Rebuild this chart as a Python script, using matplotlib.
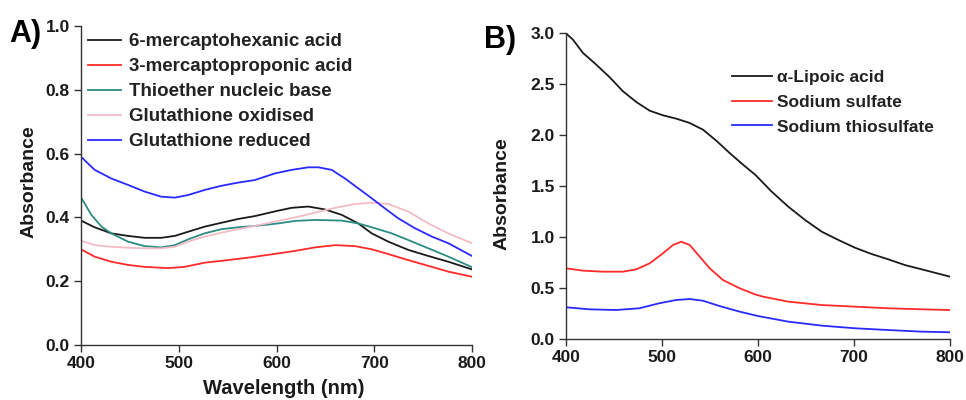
import matplotlib
matplotlib.use("Agg")
import matplotlib.pyplot as plt

plt.rcParams['font.family'] = ['Liberation Sans', 'DejaVu Sans']

# ---- Panel A: absorbance spectra of thiol-capped particles ----
wl_mha = [400, 414, 431, 448, 465, 482, 496, 509.5, 526.5, 543.5, 560.6, 577.7, 601.5,
          615.5, 632.5, 649.6, 666.7, 683.7, 697.4, 714.4, 734.9, 755.4, 775.8, 800]
abs_mha = [0.390, 0.369, 0.350, 0.342, 0.336, 0.336, 0.342, 0.355, 0.371, 0.383, 0.395, 0.404, 0.421,
           0.430, 0.434, 0.425, 0.408, 0.381, 0.350, 0.324, 0.298, 0.279, 0.261, 0.237]

wl_mpa = [400, 414, 431, 448, 465, 489, 506, 526.5, 550, 574, 601.5,
          619, 639.5, 660, 680.3, 697.4, 714.4, 734.9, 755.4, 775.8, 800]
abs_mpa = [0.300, 0.277, 0.261, 0.251, 0.245, 0.241, 0.245, 0.258, 0.266, 0.275, 0.287,
           0.295, 0.306, 0.313, 0.310, 0.300, 0.285, 0.266, 0.248, 0.230, 0.214]

wl_thio = [400, 410.6, 421, 431, 448, 465, 482, 496, 509.5, 526.5, 543.5, 560.6, 577.7, 601.5,
           619, 639.5, 666.7, 683.7, 700.8, 717.9, 734.9, 755.4, 775.8, 800]
abs_thio = [0.463, 0.408, 0.371, 0.350, 0.324, 0.310, 0.306, 0.313, 0.331, 0.350, 0.363, 0.369, 0.373, 0.381,
            0.389, 0.392, 0.390, 0.381, 0.366, 0.350, 0.329, 0.303, 0.277, 0.244]

wl_gssg = [400, 414, 431, 448, 465, 482, 496, 509.5, 526.5, 543.5, 560.6, 577.7, 601.5,
           619, 639.5, 660, 680.3, 697.4, 714.4, 734.9, 755.4, 775.8, 800]
abs_gssg = [0.327, 0.313, 0.308, 0.305, 0.303, 0.303, 0.308, 0.324, 0.340, 0.352, 0.363, 0.373, 0.389,
            0.400, 0.415, 0.430, 0.442, 0.446, 0.442, 0.418, 0.381, 0.350, 0.319]

wl_gsh = [400, 414, 431, 448, 465, 482, 496, 509.5, 526.5, 543.5, 560.6, 577.7, 598.5,
          615.5, 632.5, 642.8, 656.5, 670, 683.7, 697.4, 711, 724.6, 741.7, 758.8, 775.8, 800]
abs_gsh = [0.590, 0.549, 0.522, 0.502, 0.481, 0.465, 0.462, 0.470, 0.486, 0.499, 0.509, 0.517, 0.538,
           0.549, 0.557, 0.557, 0.549, 0.522, 0.491, 0.460, 0.428, 0.397, 0.366, 0.340, 0.319, 0.279]

labels_a = ["6-mercaptohexanic acid", "3-mercaptoproponic acid", "Thioether nucleic base",
            "Glutathione oxidised", "Glutathione reduced"]
colors_a = ["#1a1a1a", "#ff2a2a", "#2a8c82", "#f2bcc6", "#2a2aff"]

# ---- Panel B: sulfur-containing ligands ----
wl_lip = [400, 407.3, 417.7, 431.6, 445.5, 459.4, 473.3, 487.2, 501, 514.9, 528.8, 542.7, 556.6,
          570.5, 584.4, 597.5, 614.3, 631.6, 649, 666.4, 683.7, 701, 718.4, 735.7, 753, 770.5, 800]
abs_lip = [3.000, 2.937, 2.807, 2.692, 2.569, 2.431, 2.326, 2.241, 2.196, 2.163, 2.121, 2.055, 1.947,
           1.826, 1.712, 1.610, 1.447, 1.300, 1.170, 1.055, 0.974, 0.898, 0.836, 0.784, 0.728, 0.686, 0.614]

wl_sulf = [400, 417.7, 438.5, 459.4, 473.3, 487.2, 501, 511.5, 520.1, 528.8, 539.3, 549.7, 563.5,
           581, 597, 605.2, 631.6, 666.4, 701, 735.7, 770.5, 800]
abs_sulf = [0.696, 0.673, 0.663, 0.663, 0.686, 0.745, 0.843, 0.925, 0.957, 0.925, 0.810, 0.696, 0.581,
            0.500, 0.440, 0.418, 0.369, 0.336, 0.320, 0.304, 0.294, 0.287]

wl_tsulf = [400, 424.3, 452, 476.3, 497, 514.6, 528.8, 542.7, 560, 581, 600, 631.6, 666.4,
            701, 735.7, 770.5, 800]
abs_tsulf = [0.314, 0.294, 0.287, 0.304, 0.353, 0.385, 0.395, 0.378, 0.326, 0.271, 0.228, 0.173, 0.134,
             0.108, 0.091, 0.075, 0.069]

labels_b = ["\u03b1-Lipoic acid", "Sodium sulfate", "Sodium thiosulfate"]
colors_b = ["#1a1a1a", "#ff2a2a", "#2a2aff"]

W, H = 966, 400
fig = plt.figure(figsize=(W / 100, H / 100), dpi=100)
ax_a = fig.add_axes([81 / W, 1 - 345 / H, (472 - 81) / W, (345 - 26) / H])
ax_b = fig.add_axes([566 / W, 1 - 339.3 / H, (950 - 566) / W, (339.3 - 33.3) / H])

series_a = [(wl_mha, abs_mha), (wl_mpa, abs_mpa), (wl_thio, abs_thio),
            (wl_gssg, abs_gssg), (wl_gsh, abs_gsh)]
for (x, y), lab, c in zip(series_a, labels_a, colors_a):
    ax_a.plot(x, y, color=c, lw=1.3, label=lab)

series_b = [(wl_lip, abs_lip), (wl_sulf, abs_sulf), (wl_tsulf, abs_tsulf)]
for (x, y), lab, c in zip(series_b, labels_b, colors_b):
    ax_b.plot(x, y, color=c, lw=1.3, label=lab)

xticks = [400, 500, 600, 700, 800]
for ax in (ax_a, ax_b):
    for s in ("top", "right"):
        ax.spines[s].set_visible(False)
    for s in ("left", "bottom"):
        ax.spines[s].set_linewidth(1.0)
        ax.spines[s].set_color("#333333")
    ax.tick_params(direction="out", length=5, width=1.0, color="#333333",
                   labelsize=12.5, pad=3, labelcolor="#1a1a1a")
    ax.set_xlim(400, 800)
    ax.set_xticks(xticks)
    ax.set_xticklabels([str(v) for v in xticks], fontweight="bold")

yticks_a = [0.0, 0.2, 0.4, 0.6, 0.8, 1.0]
ax_a.set_ylim(0, 1.0)
ax_a.set_yticks(yticks_a)
ax_a.set_yticklabels([f"{v:.1f}" for v in yticks_a], fontweight="bold")
ax_a.set_ylabel("Absorbance", fontsize=14, fontweight="bold", color="#1a1a1a")
ax_a.yaxis.set_label_coords(-43 / 391, 0.512)
ax_a.set_xlabel("Wavelength (nm)", fontsize=14.5, fontweight="bold", color="#1a1a1a")
ax_a.xaxis.set_label_coords(0.519, -0.108)

yticks_b = [0.0, 0.5, 1.0, 1.5, 2.0, 2.5, 3.0]
ax_b.set_ylim(0, 3.0)
ax_b.set_yticks(yticks_b)
ax_b.set_yticklabels([f"{v:.1f}" for v in yticks_b], fontweight="bold")
ax_b.set_ylabel("Absorbance", fontsize=14, fontweight="bold", color="#1a1a1a")
ax_b.yaxis.set_label_coords(-55 / 384, 0.475)

leg_a = ax_a.legend(loc="upper left", bbox_to_anchor=(88 / W, 1 - 33 / H),
                    bbox_transform=fig.transFigure, frameon=False,
                    prop={"weight": "bold", "size": 13.5}, handlelength=1.75,
                    handletextpad=0.42, labelspacing=0.42, borderpad=0, borderaxespad=0)
leg_b = ax_b.legend(loc="upper left", bbox_to_anchor=(732 / W, 1 - 70 / H),
                    bbox_transform=fig.transFigure, frameon=False,
                    prop={"weight": "bold", "size": 12.5}, handlelength=2.3,
                    handletextpad=0.3, labelspacing=0.55, borderpad=0, borderaxespad=0)
for leg in (leg_a, leg_b):
    for t in leg.get_texts():
        t.set_color("#222222")

fig.text(9 / W, 1 - 34 / H, "A)", fontsize=22, fontweight="bold", va="center", ha="left")
fig.text(484 / W, 1 - 40 / H, "B)", fontsize=22, fontweight="bold", va="center", ha="left")

fig.savefig("out.png", dpi=100)
